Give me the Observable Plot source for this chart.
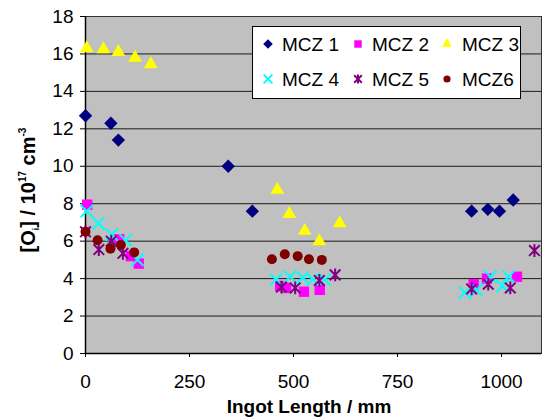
<!DOCTYPE html>
<html><head><meta charset="utf-8">
<script src="https://cdn.jsdelivr.net/npm/d3@7"></script>
<script src="https://cdn.jsdelivr.net/npm/@observablehq/plot@0.6"></script>
<style>
body{margin:0;background:#fff}
#chart{position:relative;width:542px;height:419px}
</style>
</head><body><div id="chart"></div>
<script>
// ---- data ----
const seriesNames = ["MCZ 1", "MCZ 2", "MCZ 3", "MCZ 4", "MCZ 5", "MCZ6"];
const mcz1X = [0, 61, 79, 343, 401, 928, 967, 995, 1028];
const mcz1Y = [12.7, 12.3, 11.4, 10.0, 7.6, 7.6, 7.7, 7.6, 8.2];
const mcz2X = [4, 81, 109, 128, 468, 482, 525, 563, 933, 965, 1037];
const mcz2Y = [7.95, 6.1, 5.2, 4.8, 3.6, 3.5, 3.3, 3.4, 3.7, 4.0, 4.1];
const mcz3X = [3, 43, 79, 119, 157, 461, 490, 527, 562, 611];
const mcz3Y = [16.3, 16.25, 16.1, 15.8, 15.45, 8.75, 7.45, 6.55, 6.0, 6.95];
const mcz4X = [3, 31, 63, 96, 125, 458, 492, 522, 546, 575, 912, 940, 973, 1002, 1017];
const mcz4Y = [7.6, 6.95, 6.35, 6.05, 5.0, 3.95, 4.1, 4.05, 3.95, 3.95, 3.25, 3.4, 4.1, 3.6, 4.1];
const mcz5X = [0, 32, 62, 90, 471, 504, 562, 600, 928, 968, 1021, 1079];
const mcz5Y = [6.5, 5.55, 6.0, 5.35, 3.55, 3.5, 3.9, 4.2, 3.45, 3.7, 3.5, 5.5];
const mcz6X = [0, 29, 60, 85, 117, 448, 479, 510, 537, 568];
const mcz6Y = [6.5, 6.05, 5.6, 5.8, 5.4, 5.03, 5.3, 5.2, 5.03, 5.0];
const xTicks = [0, 250, 500, 750, 1000];
const yTicks = [0, 2, 4, 6, 8, 10, 12, 14, 16, 18];

// Excel-style star marker (X with a vertical bar)
const excelStar = {
  draw(ctx, size) {
    const r = Math.sqrt(size) * 0.6;
    ctx.moveTo(-r, -r); ctx.lineTo(r, r);
    ctx.moveTo(-r, r); ctx.lineTo(r, -r);
    ctx.moveTo(0, -r * 1.2); ctx.lineTo(0, r * 1.2);
  }
};

const seriesXs = [mcz1X, mcz2X, mcz3X, mcz4X, mcz5X, mcz6X];
const seriesYs = [mcz1Y, mcz2Y, mcz3Y, mcz4Y, mcz5Y, mcz6Y];
const styles = [
  {symbol: "diamond2", fill: "#000080", r: 6.0},
  {symbol: "square2", fill: "#ff00ff", r: 6.6},
  {symbol: "triangle2", fill: "#ffff00", r: 6.6},
  {symbol: "times", stroke: "#00ffff", r: 5.6, strokeWidth: 2},
  {symbol: excelStar, stroke: "#800080", r: 5.0, strokeWidth: 2},
  {symbol: "circle", fill: "#800000", r: 5.0}
];

const tables = seriesXs.map((xs, i) => xs.map((x, j) => ({series: seriesNames[i], x, y: seriesYs[i][j]})));

const dotMarks = tables.map((t, i) => {
  const s = styles[i];
  const o = {x: "x", y: "y", symbol: s.symbol, r: s.r};
  if (s.fill) { o.fill = s.fill; o.stroke = "none"; }
  else { o.fill = "none"; o.stroke = s.stroke; o.strokeWidth = s.strokeWidth; }
  return Plot.dot(t, o);
});

const W = 542, H = 419;
const chart = Plot.plot({
  width: W, height: H,
  marginLeft: 85, marginRight: 1, marginTop: 16, marginBottom: 66,
  style: {fontFamily: "'Liberation Sans', Arial, sans-serif", fontSize: "19px", color: "#000", background: "#fff"},
  x: {domain: [0, 1096], ticks: xTicks, label: null},
  y: {domain: [0, 18], ticks: yTicks, label: null},
  marks: [
    Plot.frame({fill: "#c0c0c0", stroke: "none"}),
    Plot.gridY(yTicks, {stroke: "#1a1a1a", strokeOpacity: 1, strokeWidth: 1}),
    Plot.frame({stroke: "#333", strokeWidth: 1, fill: "none"}),
    Plot.ruleX([0], {stroke: "#000", strokeWidth: 1.5}),
    Plot.ruleY([0], {stroke: "#000", strokeWidth: 1.5}),
    Plot.axisX(xTicks, {tickSize: 4, tickPadding: 17, label: null, stroke: "#000", fill: "#000", tickFormat: d => String(d)}),
    Plot.axisY(yTicks, {tickSize: 5, tickPadding: 7, label: null, stroke: "#000", fill: "#000", tickFormat: d => String(d)}),
    ...dotMarks
  ]
});
document.getElementById("chart").appendChild(chart);

// axis titles
const svg = d3.select(chart);
const ff = "'Liberation Sans', Arial, sans-serif";
svg.append("text")
  .attr("x", 309).attr("y", 413)
  .attr("text-anchor", "middle")
  .attr("font-family", ff).attr("font-size", 19).attr("font-weight", "bold")
  .text("Ingot Length / mm");

const yt = svg.append("text")
  .attr("transform", "translate(35,190) rotate(-90)")
  .attr("text-anchor", "middle")
  .attr("font-family", ff).attr("font-size", 20).attr("font-weight", "bold");
yt.append("tspan").text("[O");
yt.append("tspan").attr("font-size", 9).attr("dy", 4).text("i");
yt.append("tspan").attr("dy", -4).text("] / 10");
yt.append("tspan").attr("font-size", 10).attr("dy", -9).text("17");
yt.append("tspan").attr("dy", 9).text(" cm");
yt.append("tspan").attr("font-size", 10).attr("dy", -9).text("-3");

// legend
const lg = svg.append("g");
lg.append("rect").attr("x", 252.5).attr("y", 26.5).attr("width", 268).attr("height", 72)
  .attr("fill", "#fff").attr("stroke", "#000").attr("stroke-width", 1);
const colX = [268, 358, 447];
const textX = [282, 372, 462];
const rowY = [44, 79];
const symMap = {diamond2: d3.symbolDiamond2, square2: d3.symbolSquare2, triangle2: d3.symbolTriangle2, times: d3.symbolTimes, circle: d3.symbolCircle};
seriesNames.forEach((name, i) => {
  const c = i % 3, r = Math.floor(i / 3);
  const s = styles[i];
  const t = typeof s.symbol === "string" ? symMap[s.symbol] : s.symbol;
  const rr = s.r * 0.72;
  lg.append("path")
    .attr("d", d3.symbol(t, Math.PI * rr * rr)())
    .attr("transform", `translate(${colX[c]},${rowY[r]})`)
    .attr("fill", s.fill || "none")
    .attr("stroke", s.stroke || "none")
    .attr("stroke-width", s.strokeWidth || 0);
  lg.append("text").attr("x", textX[c]).attr("y", rowY[r]).attr("dy", "0.35em")
    .attr("text-anchor", "start")
    .attr("font-family", ff).attr("font-size", 19).attr("fill", "#000").text(name);
});
</script>
</body></html>
